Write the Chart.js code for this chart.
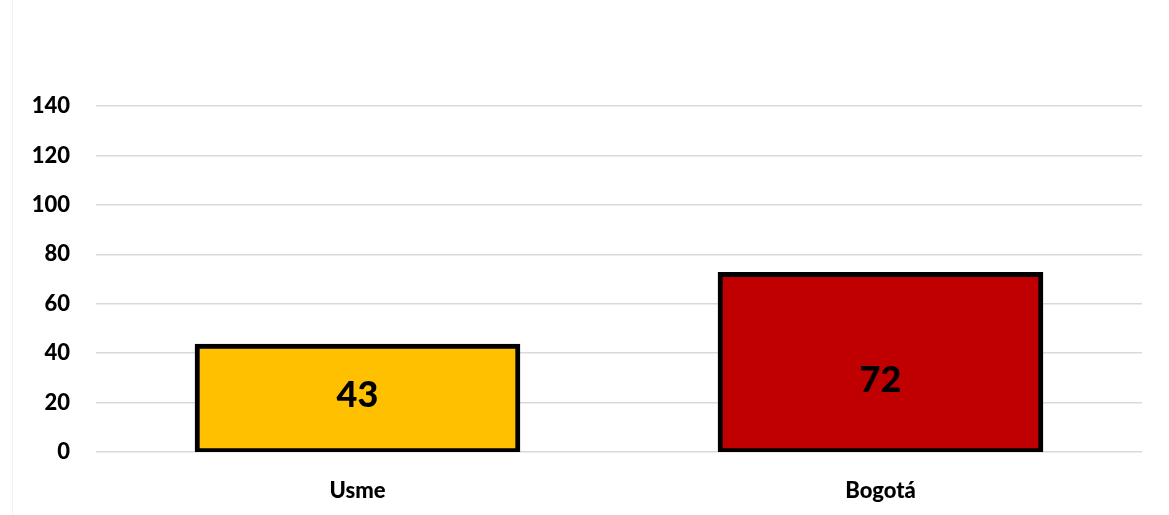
<!DOCTYPE html>
<html>
<head>
<meta charset="utf-8">
<script src="https://cdn.jsdelivr.net/npm/chart.js@4"></script>
<style>
  html, body { margin: 0; padding: 0; background: #fff; }
  #wrap { width: 1169px; height: 515px; position: relative; }
  #wrap::before { content: ''; position: absolute; left: 12px; top: 0; bottom: 0; border-left: 1px solid #f0f0f0; }
</style>
</head>
<body>
<div id="wrap"><canvas id="chart" width="1169" height="515"></canvas></div>
<script>
const categories = ['Usme', 'Bogotá'];
const values = [43, 72];
const barColors = ['#FFC000', '#C00000'];
const yTicks = [0, 20, 40, 60, 80, 100, 120, 140];

const FONT = 'Lato, "Open Sans", sans-serif';

// Draw the value inside each bar (Bogotá's label sits a bit below the middle)
const barLabels = {
    id: 'barLabels',
    afterDatasetsDraw(chart) {
        const ctx = chart.ctx;
        const meta = chart.getDatasetMeta(0);
        const nudge = [-3, 18];
        ctx.save();
        ctx.font = '900 36px ' + FONT;
        ctx.fillStyle = '#000';
        ctx.textAlign = 'center';
        ctx.textBaseline = 'middle';
        meta.data.forEach((bar, i) => {
            const y = (bar.y + bar.base) / 2 + nudge[i];
            ctx.fillText(values[i], bar.x, y);
        });
        ctx.restore();
    }
};

new Chart(document.getElementById('chart'), {
    type: 'bar',
    data: {
        labels: categories,
        datasets: [{
            data: values,
            backgroundColor: barColors,
            borderColor: '#000',
            borderWidth: 5,
            borderSkipped: false,
            inflateAmount: 2,
            barPercentage: 0.615,
            categoryPercentage: 1
        }]
    },
    options: {
        responsive: false,
        animation: false,
        layout: { padding: { top: 106, right: 27, left: 0, bottom: 0 } },
        plugins: {
            legend: { display: false },
            tooltip: { enabled: false }
        },
        scales: {
            x: {
                grid: { display: false },
                border: { display: false },
                ticks: {
                    color: '#000',
                    font: { family: FONT, size: 22, weight: '900' },
                    padding: 18
                },
                afterFit(scale) { scale.height = 63; }
            },
            y: {
                min: 0,
                max: 140,
                afterBuildTicks(scale) { scale.ticks = yTicks.map(v => ({ value: v })); },
                grid: { color: '#d9d9d9', lineWidth: 1.5, drawTicks: false },
                border: { display: false },
                ticks: {
                    color: '#000',
                    font: { family: FONT, size: 22, weight: '900' },
                    padding: 26
                },
                afterFit(scale) { scale.width = 96; }
            }
        }
    },
    plugins: [barLabels]
});
</script>
</body>
</html>
